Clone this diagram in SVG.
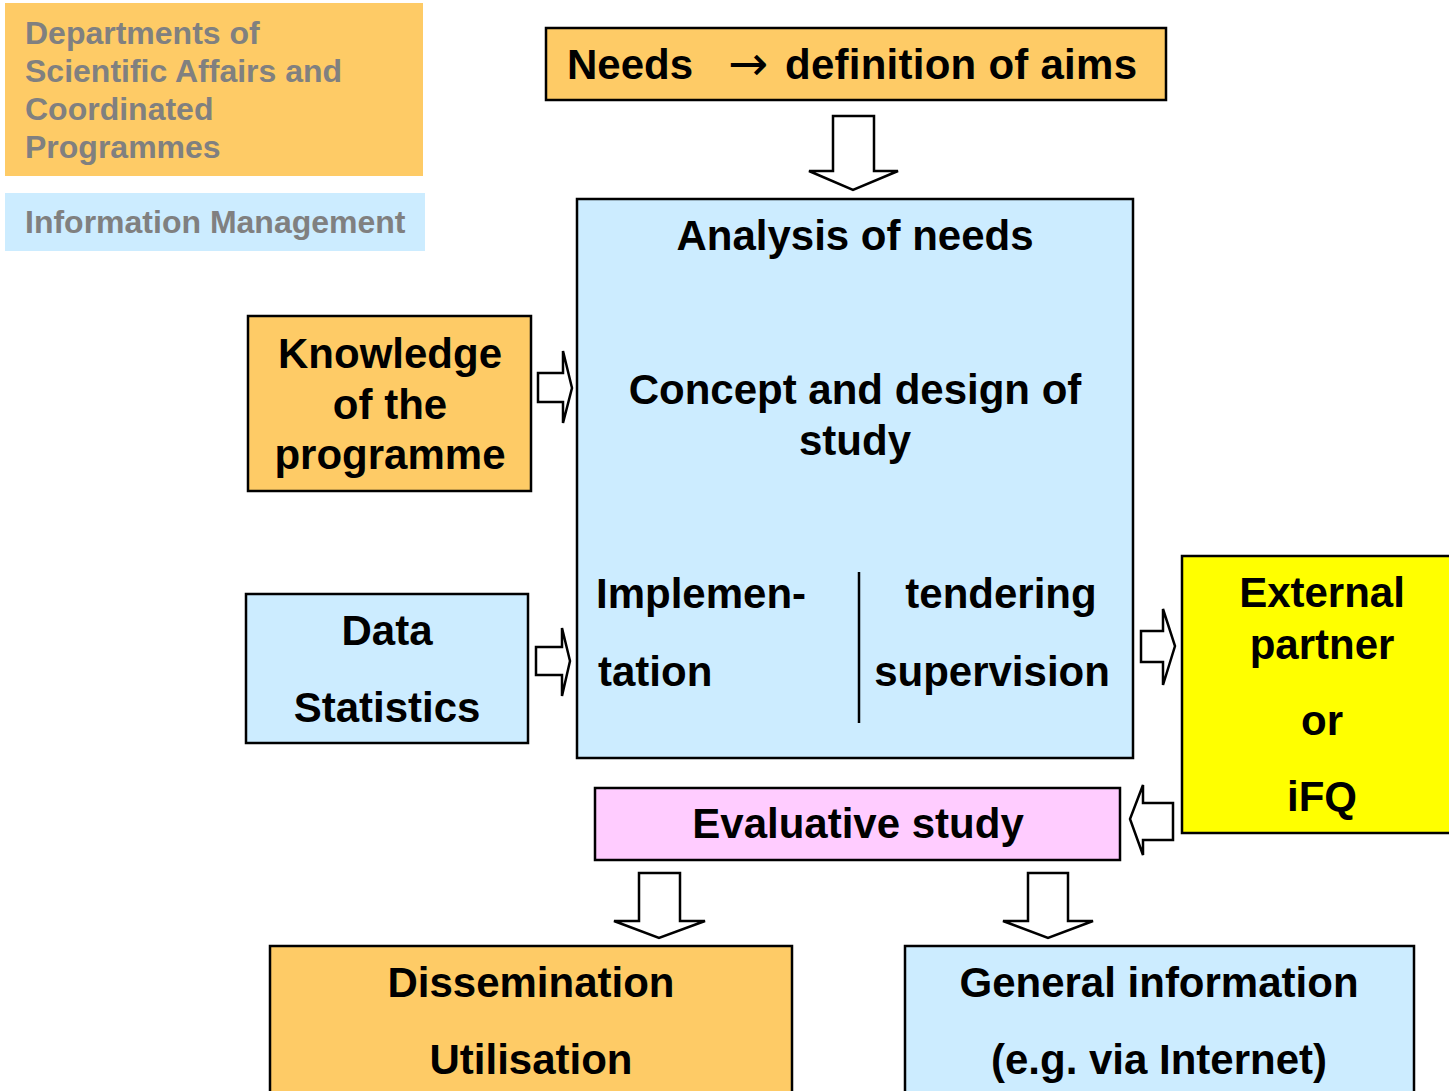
<svg xmlns="http://www.w3.org/2000/svg" width="1449" height="1091" viewBox="0 0 1449 1091">
<style>
.t{font-family:"Liberation Sans",Arial,sans-serif;font-weight:bold;font-size:42px;fill:#000}
.c{text-anchor:middle}
.leg{font-family:"Liberation Sans",Arial,sans-serif;font-weight:bold;font-size:32px;fill:#808080}
.box{stroke:#000;stroke-width:2.5}
.or{fill:#FECB66}
.bl{fill:#CCECFF}
.ye{fill:#FFFF00}
.pk{fill:#FFCCFF}
.ar{fill:#fff;stroke:#000;stroke-width:2.5;stroke-linejoin:miter}
</style>
<rect width="1449" height="1091" fill="#fff"/>
<g id="legend-departments">
<rect x="5" y="3" width="418" height="173" class="or"/>
<text class="leg" x="25" y="44">Departments of</text>
<text class="leg" x="25" y="82">Scientific Affairs and</text>
<text class="leg" x="25" y="120">Coordinated</text>
<text class="leg" x="25" y="158">Programmes</text>
</g>
<g id="legend-information">
<rect x="5" y="193" width="420" height="58" class="bl"/>
<text class="leg" x="25" y="233">Information Management</text>
</g>
<g id="needs">
<rect x="546" y="28" width="620" height="72" class="box or"/>
<text class="t" x="567" y="79">Needs</text>
<text x="728" y="80" font-family="'DejaVu Sans',sans-serif" font-size="48" fill="#000">→</text>
<text class="t" x="785" y="79" textLength="352" lengthAdjust="spacing">definition of aims</text>
</g>
<g id="main">
<rect x="577" y="199" width="556" height="559" class="box bl"/>
<text class="t c" x="855" y="250">Analysis of needs</text>
<text class="t c" x="855" y="404">Concept and design of</text>
<text class="t c" x="855" y="455">study</text>
<text class="t" x="596" y="608">Implemen-</text>
<text class="t" x="598" y="686">tation</text>
<line x1="859" y1="572" x2="859" y2="723" stroke="#000" stroke-width="2.5"/>
<text class="t c" x="1001" y="608">tendering</text>
<text class="t c" x="992" y="686">supervision</text>
</g>
<g id="knowledge">
<rect x="248" y="316" width="283" height="175" class="box or"/>
<text class="t c" x="390" y="368">Knowledge</text>
<text class="t c" x="390" y="419">of the</text>
<text class="t c" x="390" y="469">programme</text>
</g>
<g id="data">
<rect x="246" y="594" width="282" height="149" class="box bl"/>
<text class="t c" x="387" y="645">Data</text>
<text class="t c" x="387" y="722">Statistics</text>
</g>
<g id="external">
<rect x="1182" y="556" width="270" height="277" class="box ye"/>
<text class="t c" x="1322" y="607">External</text>
<text class="t c" x="1322" y="659">partner</text>
<text class="t c" x="1322" y="735">or</text>
<text class="t c" x="1322" y="811">iFQ</text>
</g>
<g id="evaluative">
<rect x="595" y="788" width="525" height="72" class="box pk"/>
<text class="t c" x="858" y="838">Evaluative study</text>
</g>
<g id="dissemination">
<rect x="270" y="946" width="522" height="150" class="box or"/>
<text class="t c" x="531" y="997">Dissemination</text>
<text class="t c" x="531" y="1074">Utilisation</text>
</g>
<g id="general">
<rect x="905" y="946" width="509" height="150" class="box bl"/>
<text class="t c" x="1159" y="997">General information</text>
<text class="t c" x="1159" y="1074">(e.g. via Internet)</text>
</g>
<g id="connectors">
<path class="ar" d="M833,116 H874 V171 H898 L853,190 L809,171 H833 Z"/>
<path class="ar" d="M538,373 H563 V351 L572,388 L563,423 V402 H538 Z"/>
<path class="ar" d="M536,647 H562 V628 L570,661 L562,696 V675 H536 Z"/>
<path class="ar" d="M1141,631 H1163 V609 L1175,646 L1163,685 V662 H1141 Z"/>
<path class="ar" d="M1173,803 H1143 V785 L1130,819 L1143,855 V840 H1173 Z"/>
<path class="ar" d="M639,873 H680 V921 H705 L659,938 L614,921 H639 Z"/>
<path class="ar" d="M1028,873 H1068 V921 H1093 L1048,938 L1003,921 H1028 Z"/>
</g>
</svg>
